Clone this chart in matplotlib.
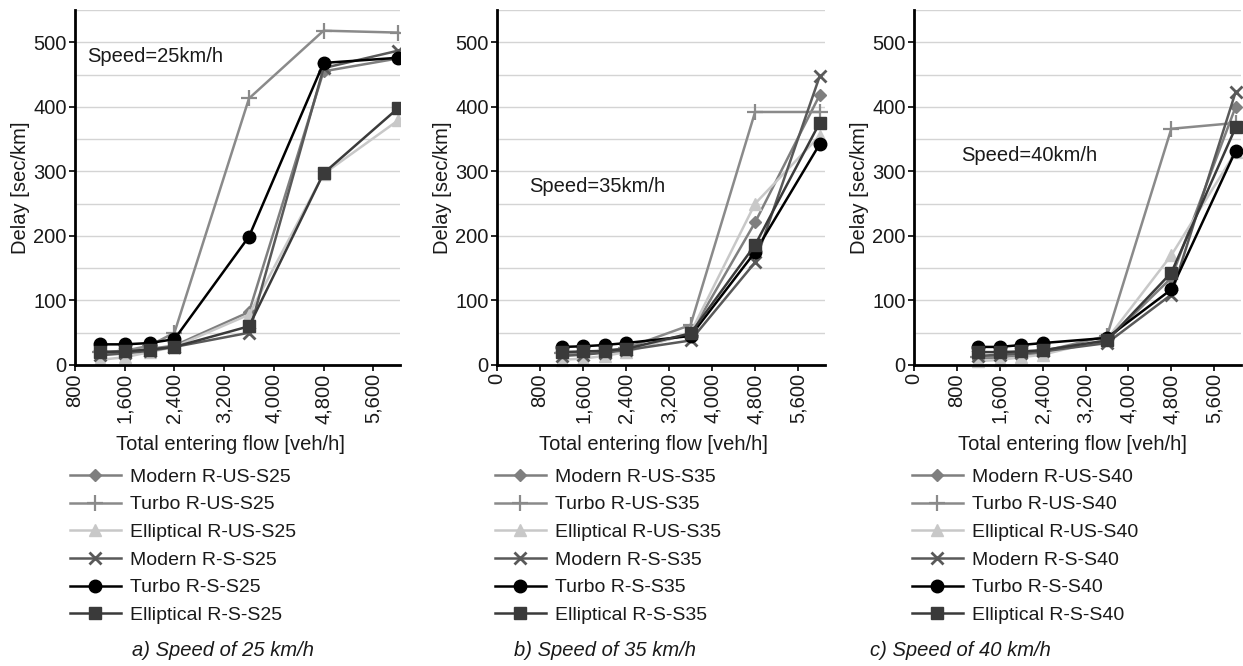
import matplotlib
matplotlib.use("Agg")
import matplotlib.pyplot as plt

plt.rcParams['font.family'] = ['Liberation Sans', 'DejaVu Sans']

# Data
flow = [1200, 1600, 2000, 2400, 3600, 4800, 6000]
speeds = [25, 35, 40]

modern_us = [
    [18, 20, 25, 30, 82, 455, 475],
    [15, 17, 20, 24, 48, 221, 418],
    [10, 12, 15, 19, 38, 135, 400],
]
turbo_us = [
    [20, 22, 30, 50, 413, 518, 515],
    [18, 19, 22, 26, 62, 392, 392],
    [12, 14, 17, 21, 45, 366, 375],
]
elliptical_us = [
    [8, 12, 20, 28, 78, 296, 379],
    [8, 10, 14, 20, 50, 250, 355],
    [6, 8, 12, 16, 40, 170, 330],
]
modern_s = [
    [15, 18, 22, 28, 50, 460, 487],
    [14, 16, 19, 23, 38, 159, 447],
    [14, 16, 18, 21, 34, 109, 423],
]
turbo_s = [
    [32, 32, 34, 40, 199, 468, 476],
    [28, 29, 31, 34, 45, 175, 342],
    [28, 28, 31, 34, 42, 117, 332],
]
elliptical_s = [
    [20, 21, 24, 28, 60, 297, 398],
    [20, 21, 22, 25, 49, 186, 375],
    [20, 20, 21, 23, 38, 143, 368],
]

xticks_first = [800, 1600, 2400, 3200, 4000, 4800, 5600]
xticks_other = [0, 800, 1600, 2400, 3200, 4000, 4800, 5600]
yticks = [0, 100, 200, 300, 400, 500]
captions = ["a) Speed of 25 km/h", "b) Speed of 35 km/h", "c) Speed of 40 km/h"]

# series styling: (name, data, color, marker, markersize, markeredgewidth)
series = [
    ("Modern R-US", modern_us, "#7f7f7f", "D", 6, 1),
    ("Turbo R-US", turbo_us, "#8a8a8a", "+", 12, 1.6),
    ("Elliptical R-US", elliptical_us, "#c8c8c8", "^", 9, 1),
    ("Modern R-S", modern_s, "#595959", "x", 9, 2),
    ("Turbo R-S", turbo_s, "#000000", "o", 9, 1),
    ("Elliptical R-S", elliptical_s, "#3a3a3a", "s", 8, 1),
]

W, H = 1243, 666
fig = plt.figure(figsize=(W / 100, H / 100), dpi=100)

# pixel boxes: left, right of each axes
boxes = [(75, 400), (497, 825), (914, 1241)]
top_px, bottom_px = 10, 365
xlims = [(800, 6030), (0, 6100), (0, 6100)]
speed_pos = [(1000, 478), (600, 277), (880, 324)]  # data coords for Speed text
xlabel_x = [230, 653, 1072]
caption_x = [223, 605, 960]
legend_x = [70, 495, 912]

tc = "#1a1a1a"
for i, sp in enumerate(speeds):
    l, r = boxes[i]
    ax = fig.add_axes([l / W, 1 - bottom_px / H, (r - l) / W, (bottom_px - top_px) / H])
    for name, data, col, mk, ms, mew in series:
        ax.plot(flow, data[i], color=col, marker=mk, markersize=ms, markeredgewidth=mew,
                linewidth=1.8, label=f"{name}-S{sp}", clip_on=(i == 0))
    ax.set_xlim(*xlims[i])
    ax.set_ylim(0, 550)
    xt = xticks_first if i == 0 else xticks_other
    ax.set_xticks(xt)
    ax.set_xticklabels([f"{v:,}" for v in xt], rotation=90, fontsize=14.5, color=tc)
    ax.set_yticks(yticks)
    ax.set_yticklabels([str(v) for v in yticks], fontsize=14.5, color=tc)
    ax.set_yticks(range(0, 551, 50), minor=True)
    ax.tick_params(axis='y', which='minor', length=0)
    ax.tick_params(axis='both', which='major', length=4, width=1.2, pad=2)
    ax.grid(True, axis='y', which='both', color="#d4d4d4", linewidth=1)
    ax.set_axisbelow(True)
    for s in ["top", "right"]:
        ax.spines[s].set_visible(False)
    ax.spines["left"].set_linewidth(2)
    ax.spines["bottom"].set_linewidth(2)
    ax.set_ylabel("Delay [sec/km]", fontsize=14.5, color=tc, labelpad=2)
    ax.text(speed_pos[i][0], speed_pos[i][1], f"Speed={sp}km/h",
            fontsize=14.5, color=tc, va="center")
    fig.text(xlabel_x[i] / W, 1 - 445 / H, "Total entering flow [veh/h]",
             ha="center", va="center", fontsize=14.5, color=tc)
    fig.legend(*ax.get_legend_handles_labels(), loc="upper left",
               bbox_to_anchor=(legend_x[i] / W, 1 - 468 / H), frameon=False,
               fontsize=14, handlelength=2.6, handletextpad=0.5,
               labelspacing=0.52, borderpad=0, borderaxespad=0,
               labelcolor=tc)
    fig.text(caption_x[i] / W, 1 - 650 / H, captions[i], ha="center", va="center",
             fontsize=14.5, style="italic", color=tc)

fig.savefig("out.png", dpi=100)
